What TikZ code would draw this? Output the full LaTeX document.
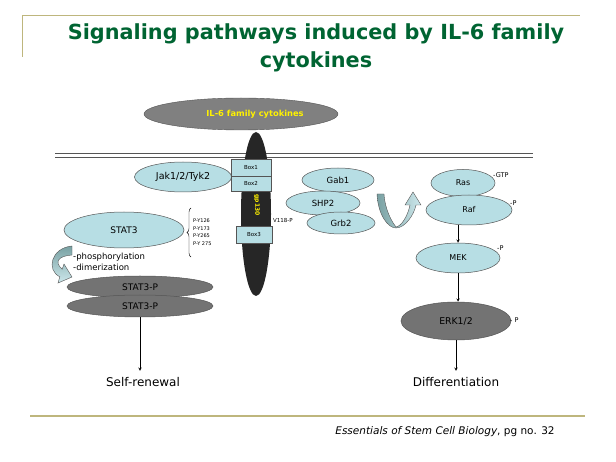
\documentclass[tikz,border=0pt]{standalone}
\usepackage{fontspec}
\setmainfont{DejaVu Sans}
\usetikzlibrary{shapes.geometric,decorations.pathreplacing,arrows}
\definecolor{titlegreen}{RGB}{0,100,50}
\definecolor{rulecol}{RGB}{190,182,125}
\definecolor{cellblue}{RGB}{183,222,228}
\definecolor{edgegrey}{RGB}{85,85,85}
\definecolor{dimergrey}{RGB}{115,115,115}
\definecolor{cytgrey}{RGB}{128,128,128}
\definecolor{gpblack}{RGB}{38,38,38}
\definecolor{ildark}{RGB}{120,160,162}
\definecolor{illight}{RGB}{205,232,236}
\begin{document}
\begin{tikzpicture}[x=1pt,y=-1pt,
  prot/.style={ellipse,draw=edgegrey,fill=cellblue,inner sep=0pt,line width=0.5pt},
  dimer/.style={ellipse,draw=edgegrey,fill=dimergrey,inner sep=0pt,line width=0.5pt},
  boxlbl/.style={draw=edgegrey,fill=cellblue,inner sep=0pt,minimum width=40pt,font=\fontsize{5.5}{6}\selectfont},
  site/.style={anchor=west,inner sep=0pt,font=\fontsize{5}{5.5}\selectfont},
  side/.style={anchor=west,inner sep=0pt,font=\fontsize{6.5}{7}\selectfont},
  flow/.style={-stealth,line width=0.5pt},
  bentarrow/.style={draw=edgegrey,line width=0.4pt}]
\useasboundingbox (0,0) rectangle (616,462);
% title and frame
\draw[rulecol,line width=1pt] (22,57) -- (22,16) -- (580,16);
\draw[rulecol,line width=1.6pt] (30,416) -- (585,416);
\node[text=titlegreen,font=\fontsize{20.8}{24}\selectfont\bfseries] (ttl1) at (316,34) {Signaling pathways induced by IL-6 family};
\node[text=titlegreen,font=\fontsize{20.8}{24}\selectfont\bfseries] (ttl2) at (316,62) {cytokines};
\node[font=\fontsize{10.5}{12}\selectfont] (cite) at (445,432) {\textit{Essentials of Stem Cell Biology}, pg no. 32};
% membrane
\draw[edgegrey,line width=0.8pt] (55,153) -- (533,153);
\draw[edgegrey,line width=0.8pt] (55,157) -- (533,157);
% receptor
\node[ellipse,fill=gpblack,inner sep=0pt,minimum width=30pt,minimum height=164pt] (gp) at (256,214) {};
\node[ellipse,draw=edgegrey,fill=cytgrey,inner sep=0pt,minimum width=194pt,minimum height=32pt] (cyt) at (241,114) {};
\node[text=yellow,font=\fontsize{8.3}{9}\selectfont\bfseries] (cytlbl) at (255,114) {IL-6 family cytokines};
\node[prot,minimum width=97pt,minimum height=30pt,font=\fontsize{9.5}{10}\selectfont] (jak) at (183,177) {Jak1/2/Tyk2};
\node[boxlbl,minimum height=17pt] (box1) at (251,167.5) {Box1};
\node[boxlbl,minimum height=15pt] (box2) at (251,183.5) {Box2};
\node[boxlbl,minimum width=36pt,minimum height=17pt] (box3) at (254,234.5) {Box3};
\node[rotate=-90,text=yellow,font=\fontsize{6}{7}\selectfont\bfseries] (gplbl) at (257,205) {gp130};
\node[site,font=\fontsize{5.5}{6}\selectfont] (v118) at (273,220) {V118-P};
% STAT3 branch
\node[prot,minimum width=120pt,minimum height=36pt,font=\fontsize{9}{10}\selectfont] (stat) at (124,230) {STAT3};
\draw[decorate,decoration={brace,amplitude=4pt},line width=0.4pt] (191,257) -- (191,208);
\node[site] (y126) at (193,221) {P-Y126};
\node[site] (y173) at (193,228.5) {P-Y173};
\node[site] (y265) at (193,236) {P-Y265};
\node[site] (y275) at (193,243.5) {P-Y 275};
\path[bentarrow,top color=ildark,bottom color=illight] (72,246) .. controls (51,248) and (46,270) .. (59.8,276.8) -- (58,283) -- (72,277) -- (64,264) -- (62.2,269.2) .. controls (54,262) and (58,256) .. (72,255) -- cycle;
\node[anchor=west,inner sep=0pt,font=\fontsize{8.5}{9}\selectfont] (phos) at (73,257) {-phosphorylation};
\node[anchor=west,inner sep=0pt,font=\fontsize{8.5}{9}\selectfont] (dimz) at (73,267) {-dimerization};
\node[dimer,minimum width=146pt,minimum height=22pt,font=\fontsize{9}{10}\selectfont] (stp1) at (140,287) {STAT3-P};
\node[dimer,minimum width=146pt,minimum height=22pt,font=\fontsize{9}{10}\selectfont] (stp2) at (140,306) {STAT3-P};
\node[font=\fontsize{12}{13}\selectfont] (renew) at (143,382) {Self-renewal};
\draw[flow,shorten >=3pt] (stp2.south) -- (stp2.south |- renew.north);
% adaptor complex
\node[prot,minimum width=72pt,minimum height=24pt,font=\fontsize{8.5}{9}\selectfont] (gab) at (338,180) {Gab1};
\node[prot,minimum width=74pt,minimum height=24pt,font=\fontsize{8.5}{9}\selectfont] (shp) at (323,203) {SHP2};
\node[prot,minimum width=68pt,minimum height=22pt,font=\fontsize{8.5}{9}\selectfont] (grb) at (341,223) {Grb2};
\path[bentarrow,left color=ildark,right color=illight] (377,194) .. controls (378,215) and (388,228) .. (396,228) .. controls (405,228) and (414,215) .. (416,205) -- (421,205) -- (413,192) -- (405,205) -- (410,205) .. controls (408,215) and (402,226) .. (396,227) .. controls (392,222) and (385,210) .. (384,194) -- cycle;
% MAPK cascade
\node[prot,minimum width=64pt,minimum height=27pt,font=\fontsize{8}{9}\selectfont] (ras) at (463,183) {Ras};
\node[prot,minimum width=86pt,minimum height=30pt,font=\fontsize{8}{9}\selectfont] (raf) at (469,210) {Raf};
\node[prot,minimum width=84pt,minimum height=30pt,font=\fontsize{8}{9}\selectfont] (mek) at (458,258) {MEK};
\node[dimer,minimum width=110pt,minimum height=38pt,font=\fontsize{9.3}{10}\selectfont] (erk) at (456,321) {ERK1/2};
\node[side] (gtp) at (493,175) {-GTP};
\node[side] (rafp) at (510,203) {-P};
\node[side] (mekp) at (497,248) {-P};
\node[side] (erkp) at (510,320) {- P};
\node[font=\fontsize{12}{13}\selectfont] (diff) at (456,382) {Differentiation};
\draw[flow] (mek.north |- raf.south) -- (mek.north);
\draw[flow] (mek.south) -- (mek.south |- erk.north);
\draw[flow,shorten >=3pt] (erk.south) -- (erk.south |- diff.north);
\end{tikzpicture}
\end{document}
